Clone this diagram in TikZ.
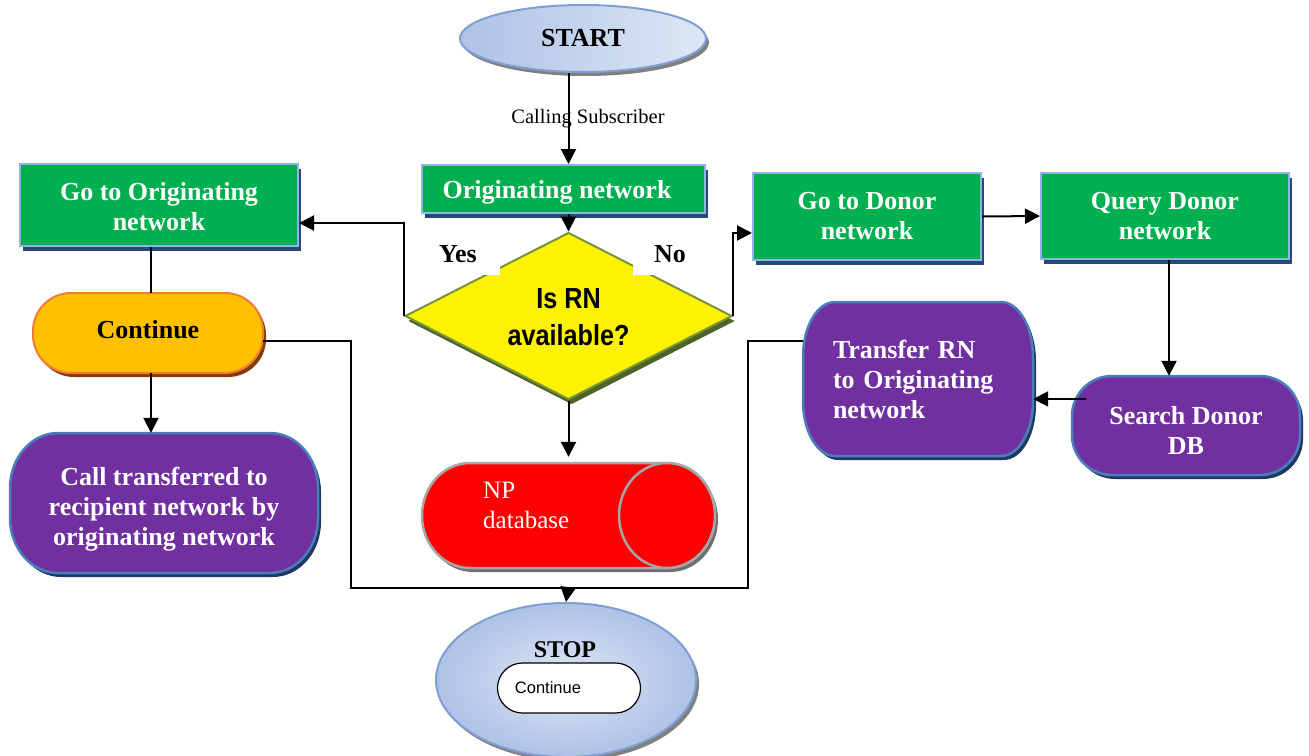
\documentclass[tikz,border=0pt]{standalone}
\usepackage{fontspec}
\setmainfont{Liberation Serif}
\newfontfamily\sansfam{Liberation Sans}
\newfontfamily\diafam[FakeStretch=0.87]{Liberation Sans}
\usetikzlibrary{arrows.meta,shapes.geometric,shapes.misc,shadows}

\definecolor{boxgreen}{HTML}{00B050}
\definecolor{greenedge}{HTML}{8DB4E2}
\definecolor{greenshadow}{HTML}{244A75}
\definecolor{procpurple}{HTML}{7030A0}
\definecolor{purpleedge}{HTML}{4A7EBB}
\definecolor{purpleshadow}{HTML}{1F3864}
\definecolor{amber}{HTML}{FFC000}
\definecolor{amberedge}{HTML}{ED7D31}
\definecolor{ambershadow}{HTML}{843C0C}
\definecolor{dialine}{HTML}{77933C}
\definecolor{diashadow}{HTML}{4F6228}
\definecolor{termedge}{HTML}{7F9FD3}
\definecolor{termlight}{HTML}{DDE7F5}
\definecolor{termdark}{HTML}{AEC2E6}
\definecolor{dbedge}{HTML}{A6A6A6}
\definecolor{dbshadow}{HTML}{6E6E6E}

\newcommand\lblfont{\bfseries\fontsize{26}{30}\selectfont}

% rounded box with elliptical corners: x0 y0 x1 y1 rx ry
\newcommand\softbox[6]{({#1+#5},#2) -- ({#3-#5},#2)
  arc[start angle=-90,end angle=0,x radius=#5,y radius=#6] -- (#3,{#4-#6})
  arc[start angle=0,end angle=90,x radius=#5,y radius=#6] -- ({#1+#5},#4)
  arc[start angle=90,end angle=180,x radius=#5,y radius=#6] -- (#1,{#2+#6})
  arc[start angle=180,end angle=270,x radius=#5,y radius=#6] -- cycle}

\tikzset{
  conn/.style={line width=2pt, draw=black},
  arr/.style={conn, -{Triangle[length=15pt,width=15pt]}},
  greenbox/.style={rectangle, fill=boxgreen, draw=greenedge, line width=2pt,
    inner sep=0pt, text=white, font=\lblfont, align=center,
    general shadow={fill=greenshadow, shadow xshift=3pt, shadow yshift=-5pt}},
  holder/.style={rectangle, inner sep=0pt, font=\lblfont, align=center},
  terminal/.style={ellipse, draw=termedge, line width=2pt, inner sep=0pt,
    general shadow={fill=gray, shadow xshift=3pt, shadow yshift=-4pt}},
  branchlbl/.style={fill=white, inner sep=0pt, font=\lblfont},
}

\begin{document}
\begin{tikzpicture}[x=1pt,y=-1pt]
\useasboundingbox (0,0) rectangle (1309,755);

% ---- start / originating network / decision ----
\node[terminal, left color=termdark, right color=termlight,
      minimum width=246pt, minimum height=67pt, font=\lblfont] (start) at (583,38.5) {START};
\node[greenbox, minimum width=283pt, minimum height=48pt] (orig) at (563.5,189) {};
\node[font=\lblfont, text=white, inner sep=0pt] (origlbl) at (557,192) {Originating network};

\node[diamond, fill=yellow, draw=dialine, line width=2pt, inner sep=0pt,
      minimum width=327pt, minimum height=167pt,
      general shadow={fill=diashadow, shadow xshift=3pt, shadow yshift=-5pt}] (dia) at (568.5,316) {};
\node[font=\diafam\bfseries\fontsize{29}{37}\selectfont, align=center, inner sep=0pt] (dialbl) at (568.5,317) {Is RN\\available?};
\node[branchlbl, minimum width=84pt, minimum height=42pt] (yes) at (458,254) {Yes};
\node[branchlbl, minimum width=74pt, minimum height=42pt] (no) at (670,254) {No};

\draw[arr] (start.south -| dia.north) -- (orig.north -| dia.north);
\node[font=\fontsize{20.5}{24}\selectfont] (calling) at (588,119) {Calling Subscriber};
\draw[arr] (orig.south -| dia.north) -- (dia.north);

% ---- NP database ----
\fill[dbshadow, shift={(3,4)}] (470,463) -- (667,463)
  arc[start angle=-90,end angle=90,x radius=48,y radius=52.5] -- (470,568)
  arc[start angle=90,end angle=270,x radius=48,y radius=52.5] -- cycle;
\filldraw[fill=red, draw=dbedge, line width=2.5pt] (470,463) -- (667,463)
  arc[start angle=-90,end angle=90,x radius=48,y radius=52.5] -- (470,568)
  arc[start angle=90,end angle=270,x radius=48,y radius=52.5] -- cycle;
\filldraw[fill=red, draw=dbedge, line width=2.5pt] (667,515.5) ellipse[x radius=48, y radius=52.5];
\node[inner sep=0pt, minimum width=294pt, minimum height=105pt] (npdb) at (568.5,515.5) {};
\node[anchor=west, inner sep=0pt, text=white, align=left,
      font=\fontsize{25}{30}\selectfont] (nptext) at (483,505) {NP\\database};
\draw[arr, shorten >=6pt] (dia.south) -- (npdb.north);

% ---- left branch ----
\node[greenbox, minimum width=278pt, minimum height=82pt] (goorig) at (159,205) {};
\node[font=\lblfont, text=white, align=center, inner sep=0pt] (gooriglbl) at (159,207) {Go to Originating\\network};

\fill[ambershadow, shift={(3,4)}] \softbox{33}{293}{263}{373}{38}{38};
\filldraw[fill=amber, draw=amberedge, line width=2pt] \softbox{33}{293}{263}{373}{38}{38};
\node[holder, minimum width=230pt, minimum height=80pt] (cont) at (148,333) {};
\node[font=\lblfont, inner sep=0pt] (contlbl) at (148,330) {Continue};

\fill[purpleshadow, shift={(3,4)}] \softbox{10}{433}{318}{573}{48}{55};
\filldraw[fill=procpurple, draw=purpleedge, line width=2.5pt] \softbox{10}{433}{318}{573}{48}{55};
\node[holder, minimum width=308pt, minimum height=140pt] (call) at (164,503) {};
\node[font=\lblfont, text=white, align=center, inner sep=0pt] (calllbl) at (164,509)
  {Call transferred to\\recipient network by\\originating network};

\draw[arr] (dia.west) |- ([yshift=-18pt]goorig.east);
\draw[conn] ([xshift=-8pt]goorig.south) -- ([xshift=-8pt]goorig.south |- cont.north);
\draw[arr] ([xshift=3pt]cont.south) -- ([xshift=3pt]cont.south |- call.north);

% ---- right branch ----
\node[greenbox, minimum width=228pt, minimum height=87pt] (godonor) at (867,216.5) {Go to Donor\\network};
\node[greenbox, minimum width=248pt, minimum height=86pt] (query) at (1165,216) {Query Donor\\network};

\fill[purpleshadow, shift={(3,4)}] \softbox{1072}{376}{1300}{475}{40}{40};
\filldraw[fill=procpurple, draw=purpleedge, line width=2.5pt] \softbox{1072}{376}{1300}{475}{40}{40};
\node[holder, minimum width=228pt, minimum height=99pt] (search) at (1186,425.5) {};
\node[font=\lblfont, text=white, align=center, inner sep=0pt] (searchlbl) at (1186,431) {Search Donor\\DB};

\fill[purpleshadow, shift={(3,4)}] \softbox{803}{302}{1033}{456}{32}{55};
\filldraw[fill=procpurple, draw=purpleedge, line width=2.5pt] \softbox{803}{302}{1033}{456}{32}{55};
\node[holder, minimum width=230pt, minimum height=154pt, text width=170pt, align=left, text=white]
  (transfer) at (918,379) {Transfer RN\\to Originating\\network};

\draw[arr] (dia.east) |- ([yshift=-16.5pt]godonor.west);
\draw[arr] (godonor.east) -- (query.west);
\draw[arr] ([xshift=4pt]query.south) -- ([xshift=4pt]query.south |- search.north);
\draw[arr] ([xshift=14pt,yshift=26.5pt]search.west) -- ([yshift=26.5pt]search.west -| transfer.east);

% ---- stop ----
\node[terminal, inner color=termlight, outer color=termdark,
      minimum width=260pt, minimum height=154pt] (stop) at (566,680) {};
\node[font=\bfseries\fontsize{24}{28}\selectfont] (stoplbl) at (565,650) {STOP};
\node[rounded rectangle, draw=black, line width=1.2pt, fill=white, inner sep=0pt,
      minimum width=143pt, minimum height=50pt,
      font=\sansfam\fontsize{16.5}{20}\selectfont] (stopcont) at (569,688) {Continue\hspace*{42pt}};

\coordinate (lbend) at (351,588);
\coordinate (rbend) at (748,588);
\coordinate (bus) at (568,588);
\draw[conn] ([yshift=-8pt]cont.east) -| (lbend) -- (rbend) |- ([yshift=38pt]transfer.west);
\draw[arr] (bus) -- (stop.north);
\end{tikzpicture}
\end{document}
